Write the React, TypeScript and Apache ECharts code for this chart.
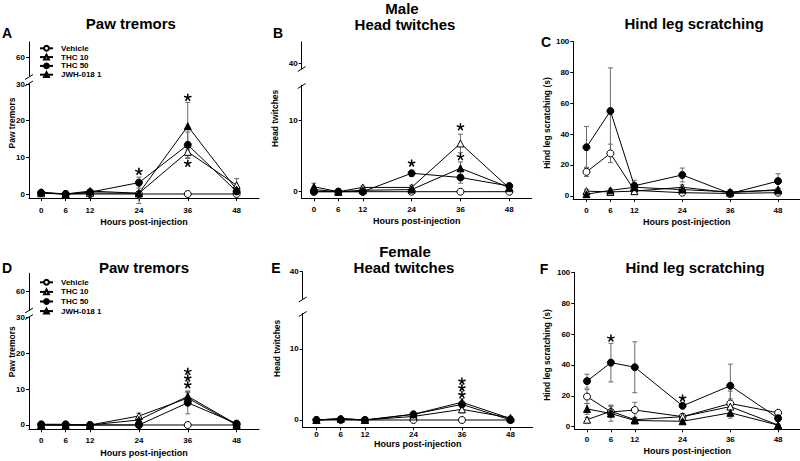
import React, { useEffect, useRef } from 'react';
import * as echarts from 'echarts';

const FONT = "'Liberation Sans', Arial, Helvetica, sans-serif";

const hours = [0, 6, 12, 24, 36, 48];
const groups = ['Vehicle', 'THC 10', 'THC 50', 'JWH-018 1'];

const tremorTicks = [0, 10, 20, 30];
const tremorBreakTicks = [60];
const twitchTicks = [0, 10];
const twitchBreakTicks = [40];
const scratchTicks = [0, 20, 40, 60, 80, 100];

// A – male paw tremors (rows: Vehicle, THC 10, THC 50, JWH-018 1)
const maleTremorMean = [
  [0.3, 0, 0, 0, 0, 0],
  [0.2, 0, 0.3, 0.2, 11.5, 2.4],
  [0.3, 0, 0.5, 3.1, 13.4, 0.7],
  [0.5, 0, 0.8, 0.2, 18.5, 1.2],
];
const maleTremorSem = [
  [0.3, 0, 0, 0, 0, 0],
  [0.2, 0, 0.3, 2.8, 1.8, 1.8],
  [0.3, 0, 0.4, 1.5, 3.5, 0.5],
  [0.3, 0, 0.3, 0.5, 6.5, 0.8],
];
// [hour, level of the asterisk group centre, number of stacked asterisks]
const maleTremorStars = [[24, 6.1, 1], [36, 26.3, 1], [36, 8.3, 1]];

// B – male head twitches
const maleTwitchMean = [
  [0, 0, 0, 0, 0, 0],
  [0.3, 0, 0.6, 0.6, 6.8, 0.5],
  [0, 0, 0, 2.6, 2.0, 0.8],
  [0.7, 0, 0.2, 0.3, 3.3, 0.6],
];
const maleTwitchSem = [
  [0, 0, 0, 0, 0, 0],
  [0.3, 0, 0.2, 0.3, 1.3, 0.3],
  [0, 0, 0, 0.4, 0.8, 0.2],
  [0.5, 0, 0.2, 0.2, 0.9, 0.3],
];
const maleTwitchStars = [[24, 4.0, 1], [36, 9.1, 1], [36, 4.9, 1]];

// C – male hind leg scratching (s)
const maleScratchMean = [
  [15.5, 27.5, 3.5, 2, 1.5, 2],
  [3, 2.5, 3, 5.5, 2, 4],
  [31.5, 55, 6.5, 13.5, 1.5, 9.5],
  [1, 3.5, 5.5, 4, 2.5, 3.5],
];
const maleScratchSem = [
  [3, 6, 1, 1, 0.5, 1],
  [1, 1, 1, 1.5, 0.5, 1],
  [13.5, 28, 3.5, 4.5, 2.5, 4.8],
  [0.5, 1, 1, 1, 0.5, 1],
];
const maleScratchStars: number[][] = [];

// D – female paw tremors
const femaleTremorMean = [
  [0, 0, 0, 0, 0, 0],
  [0, 0, 0, 2.5, 7.5, 0],
  [0.2, 0.2, 0, 0, 6.2, 0.4],
  [0, 0, 0, 1.4, 8.0, 0.2],
];
const femaleTremorSem = [
  [0, 0, 0, 0, 0, 0],
  [0, 0, 0, 0.8, 1.5, 0],
  [0, 0, 0, 0, 3.1, 0.2],
  [0, 0, 0, 0.6, 1.5, 0.1],
];
const femaleTremorStars = [[36, 13.0, 3]];

// E – female head twitches
const femaleTwitchMean = [
  [0, 0, 0, 0, 0, 0],
  [0, 0.2, 0, 0.5, 1.5, 0.3],
  [0, 0.1, 0, 0.8, 2.2, 0],
  [0, 0.2, 0, 0.8, 2.5, 0.2],
];
const femaleTwitchSem = [
  [0, 0, 0, 0, 0, 0],
  [0, 0.1, 0, 0.2, 0.5, 0.2],
  [0, 0.1, 0, 0.2, 0.4, 0],
  [0, 0.1, 0, 0.2, 0.5, 0.1],
];
const femaleTwitchStars = [[36, 4.5, 3]];

// F – female hind leg scratching (s)
const femaleScratchMean = [
  [19.5, 9.5, 10.8, 6.5, 15, 9],
  [4.5, 10, 4.5, 6.5, 13, 1],
  [29.5, 41.5, 38.5, 13.5, 26.5, 5.5],
  [11.5, 8.5, 4, 3.5, 9, 1],
];
const femaleScratchSem = [
  [4.5, 3.5, 5, 1.5, 8, 1],
  [1.5, 4, 1.5, 1.5, 5, 0.5],
  [4.5, 12.5, 16.5, 1.5, 14, 2],
  [3.5, 5, 1, 1, 3.5, 0.5],
];
const femaleScratchStars = [[6, 57.2, 1], [24, 18.4, 1]];

const titleTexts = ['Paw tremors', 'Male', 'Head twitches', 'Hind leg scratching', 'Paw tremors', 'Female', 'Head twitches', 'Hind leg scratching'];
const titlePos = [[130.8, 23.3], [402, 8], [405, 24.2], [694, 23.3], [144, 267.7], [405, 251.5], [404, 267.7], [695, 267.7]];
const letters = ['A', 'B', 'C', 'D', 'E', 'F'];
const letterPos = [[7, 33], [278, 33], [546, 42], [7, 268.3], [276, 268], [544, 269.3]];

const xName = 'Hours post-injection';

type Upper = { top: number; height: number; yMin: number; yMax: number; ticks: number[]; slashes: number[] };
type Panel = {
  means: number[][]; sems: number[][]; stars: number[][];
  left: number; top: number; width: number; height: number;
  yMin: number; yMax: number; yTicks: number[];
  xMin: number; xMax: number; labelMargin: number; nameGap: number;
  yName: string; yNameX: number; yNameY: number;
  upper?: Upper;
};

const panels: Panel[] = [
  {
    means: maleTremorMean, sems: maleTremorSem, stars: maleTremorStars,
    left: 29, top: 84, width: 230, height: 114, yMin: -1.09, yMax: 30, yTicks: tremorTicks,
    xMin: -3, xMax: 53.5, labelMargin: 8, nameGap: 19.5,
    yName: 'Paw tremors', yNameX: 11.7, yNameY: 123,
    upper: { top: 42, height: 34, yMin: 30, yMax: 83.7, ticks: tremorBreakTicks, slashes: [77, 83.5] },
  },
  {
    means: maleTwitchMean, sems: maleTwitchSem, stars: maleTwitchStars,
    left: 301.7, top: 85.2, width: 230, height: 113.1, yMin: -0.93, yMax: 15, yTicks: twitchTicks,
    xMin: -3, xMax: 53.5, labelMargin: 7, nameGap: 18,
    yName: 'Head twitches', yNameX: 275, yNameY: 118.3,
    upper: { top: 42, height: 27, yMin: 35, yMax: 58.7, ticks: twitchBreakTicks, slashes: [69, 86] },
  },
  {
    means: maleScratchMean, sems: maleScratchSem, stars: maleScratchStars,
    left: 573.3, top: 41.7, width: 231.5, height: 157.3, yMin: -2.1, yMax: 100, yTicks: scratchTicks,
    xMin: -3.3, xMax: 53.5, labelMargin: 7, nameGap: 18,
    yName: 'Hind leg scratching (s)', yNameX: 546.7, yNameY: 123,
  },
  {
    means: femaleTremorMean, sems: femaleTremorSem, stars: femaleTremorStars,
    left: 29, top: 317.3, width: 230, height: 112, yMin: -1.2, yMax: 30, yTicks: tremorTicks,
    xMin: -3, xMax: 53.5, labelMargin: 7, nameGap: 19,
    yName: 'Paw tremors', yNameX: 11.5, yNameY: 351.7,
    upper: { top: 273.3, height: 36.7, yMin: 30, yMax: 88, ticks: tremorBreakTicks, slashes: [310.5, 317] },
  },
  {
    means: femaleTwitchMean, sems: femaleTwitchSem, stars: femaleTwitchStars,
    left: 302.7, top: 313.5, width: 230, height: 113.8, yMin: -1.03, yMax: 15, yTicks: twitchTicks,
    xMin: -3.4, xMax: 53.5, labelMargin: 3, nameGap: 11.5,
    yName: 'Head twitches', yNameX: 276.7, yNameY: 348.3,
    upper: { top: 271.7, height: 27.3, yMin: 15, yMax: 40, ticks: twitchBreakTicks, slashes: [299.5, 314] },
  },
  {
    means: femaleScratchMean, sems: femaleScratchSem, stars: femaleScratchStars,
    left: 574.3, top: 272.3, width: 230, height: 157, yMin: -1.7, yMax: 100, yTicks: scratchTicks,
    xMin: -3.2, xMax: 53.5, labelMargin: 6, nameGap: 17,
    yName: 'Hind leg scratching (s)', yNameX: 546.7, yNameY: 355,
  },
];

const symbols = ['circle', 'triangle', 'circle', 'triangle'];
const fills = ['#ffffff', '#ffffff', '#000000', '#000000'];

const axisLineStyle = { color: '#000', width: 1 };
const tickLabelStyle = { fontSize: 8, fontWeight: 'bold' as const, color: '#000', fontFamily: FONT };

// five-armed asterisk drawn with short strokes
function asteriskLines(cx: number, cy: number, r: number) {
  const out: any[] = [];
  for (let a = 0; a < 5; a++) {
    const ang = -Math.PI / 2 + (a * 2 * Math.PI) / 5;
    out.push({
      type: 'line',
      shape: { x1: cx, y1: cy, x2: cx + r * Math.cos(ang), y2: cy + r * Math.sin(ang) },
      style: { stroke: '#000', lineWidth: 1.5, lineCap: 'round' },
    });
  }
  return out;
}

function buildOption() {
  const grids: any[] = [];
  const xAxes: any[] = [];
  const yAxes: any[] = [];
  const series: any[] = [];
  const graphics: any[] = [];

  panels.forEach((p) => {
    const gi = grids.length;
    grids.push({ left: p.left, top: p.top, width: p.width, height: p.height, containLabel: false });
    xAxes.push({
      type: 'value', gridIndex: gi, min: p.xMin, max: p.xMax,
      name: xName, nameLocation: 'middle', nameGap: p.nameGap,
      nameTextStyle: { fontSize: 9, fontWeight: 'bold', color: '#000', fontFamily: FONT },
      axisLine: { show: true, onZero: false, lineStyle: axisLineStyle },
      axisTick: { show: true, length: 3, customValues: hours, lineStyle: axisLineStyle },
      axisLabel: { show: true, customValues: hours, margin: p.labelMargin, ...tickLabelStyle },
      splitLine: { show: false },
    });
    yAxes.push({
      type: 'value', gridIndex: gi, min: p.yMin, max: p.yMax,
      axisLine: { show: true, onZero: false, lineStyle: axisLineStyle },
      axisTick: { show: true, length: 3, customValues: p.yTicks, lineStyle: axisLineStyle },
      axisLabel: { show: true, customValues: p.yTicks, margin: 4, ...tickLabelStyle },
      splitLine: { show: false },
    });

    // error bars (mean ± SEM)
    const errData: number[][] = [];
    groups.forEach((g, k) => hours.forEach((h, i) => errData.push([h, p.means[k][i], p.sems[k][i]])));
    series.push({
      type: 'custom', xAxisIndex: gi, yAxisIndex: gi, z: 1, silent: true,
      encode: { x: 0, y: 1 },
      data: errData,
      renderItem: (params: any, api: any) => {
        const x = api.value(0), m = api.value(1), s = api.value(2);
        if (!s) return { type: 'group', children: [] };
        const top = api.coord([x, m + s]);
        const bot = api.coord([x, m - s]);
        const st = { stroke: '#6b6b6b', lineWidth: 1 };
        const cap = 2.5;
        return {
          type: 'group',
          children: [
            { type: 'line', shape: { x1: top[0], y1: top[1], x2: bot[0], y2: bot[1] }, style: st },
            { type: 'line', shape: { x1: top[0] - cap, y1: top[1], x2: top[0] + cap, y2: top[1] }, style: st },
            { type: 'line', shape: { x1: bot[0] - cap, y1: bot[1], x2: bot[0] + cap, y2: bot[1] }, style: st },
          ],
        };
      },
    });

    groups.forEach((g, k) => {
      series.push({
        type: 'line', name: g, xAxisIndex: gi, yAxisIndex: gi,
        data: hours.map((h, i) => [h, p.means[k][i]]),
        symbol: symbols[k], symbolSize: 7, showSymbol: true,
        lineStyle: { color: '#000', width: 1 },
        itemStyle: { color: fills[k], borderColor: '#000', borderWidth: 1 },
        z: 3 + k, silent: true, emphasis: { disabled: true },
      });
    });

    if (p.stars.length) {
      series.push({
        type: 'custom', xAxisIndex: gi, yAxisIndex: gi, z: 10, silent: true,
        encode: { x: 0, y: 1 },
        data: p.stars,
        renderItem: (params: any, api: any) => {
          const pt = api.coord([api.value(0), api.value(1)]);
          const n = api.value(2) || 1;
          const gap = 6.7;
          let children: any[] = [];
          for (let j = 0; j < n; j++) {
            children = children.concat(asteriskLines(pt[0], pt[1] + (j - (n - 1) / 2) * gap, 3.3));
          }
          return { type: 'group', children };
        },
      });
    }

    if (p.upper) {
      const u = p.upper;
      const gu = grids.length;
      grids.push({ left: p.left, top: u.top, width: p.width, height: u.height, containLabel: false });
      xAxes.push({ type: 'value', gridIndex: gu, min: p.xMin, max: p.xMax, show: false });
      yAxes.push({
        type: 'value', gridIndex: gu, min: u.yMin, max: u.yMax,
        axisLine: { show: true, onZero: false, lineStyle: axisLineStyle },
        axisTick: { show: true, length: 3, customValues: u.ticks, lineStyle: axisLineStyle },
        axisLabel: { show: true, customValues: u.ticks, margin: 4, ...tickLabelStyle },
        splitLine: { show: false },
      });
      u.slashes.forEach((y) => {
        graphics.push({
          type: 'line', shape: { x1: p.left - 4, y1: y + 2.5, x2: p.left + 4, y2: y - 2.5 },
          style: { stroke: '#000', lineWidth: 1 }, silent: true,
        });
      });
    }

    graphics.push({
      type: 'text', x: p.yNameX, y: p.yNameY, rotation: Math.PI / 2,
      style: { text: p.yName, fill: '#000', fontSize: 8.5, fontWeight: 'bold', fontFamily: FONT, align: 'center', verticalAlign: 'middle' },
      silent: true,
    });
  });

  titleTexts.forEach((t, i) => {
    graphics.push({
      type: 'text', x: titlePos[i][0], y: titlePos[i][1],
      style: { text: t, fill: '#000', fontSize: 15, fontWeight: 'bold', fontFamily: FONT, align: 'center', verticalAlign: 'middle' },
      silent: true,
    });
  });
  letters.forEach((t, i) => {
    graphics.push({
      type: 'text', x: letterPos[i][0], y: letterPos[i][1],
      style: { text: t, fill: '#000', fontSize: 14, fontWeight: 'bold', fontFamily: FONT, align: 'center', verticalAlign: 'middle' },
      silent: true,
    });
  });

  const legendBase = {
    orient: 'vertical', left: 39, padding: 0, itemWidth: 13, itemHeight: 6,
    selectedMode: false, data: groups,
    textStyle: { fontSize: 8, fontWeight: 'bold', color: '#000', fontFamily: FONT, lineHeight: 8, padding: [0, 0, 0, 3] },
  };

  return {
    animation: false,
    backgroundColor: '#ffffff',
    grid: grids,
    xAxis: xAxes,
    yAxis: yAxes,
    series,
    legend: [
      { ...legendBase, top: 44.3, itemGap: 0.8 },
      { ...legendBase, top: 278.3, itemGap: 1.6 },
    ],
    graphic: graphics,
  };
}

export default function App() {
  const ref = useRef<HTMLDivElement>(null);
  useEffect(() => {
    if (!ref.current) return;
    const chart = echarts.init(ref.current, undefined, { renderer: 'svg' });
    chart.setOption(buildOption() as any);
    return () => chart.dispose();
  }, []);
  return (
    <div
      ref={ref}
      style={{ position: 'fixed', left: 0, top: 0, width: 800, height: 461, background: '#fff' }}
    />
  );
}
